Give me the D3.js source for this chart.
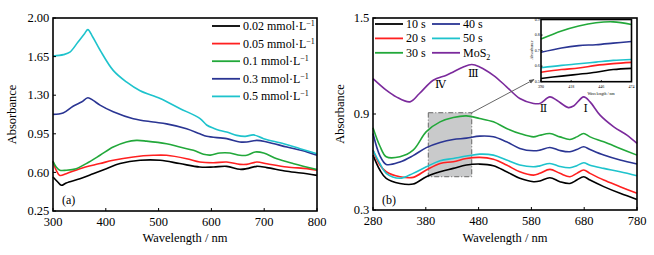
<!DOCTYPE html>
<html>
<head>
<meta charset="utf-8">
<script src="https://cdn.jsdelivr.net/npm/d3@7"></script>
<style>
  body { margin: 0; background: #fff; }
  .frame { fill: none; stroke: #000; stroke-width: 1.6; }
  .curve { fill: none; stroke-width: 1.6; }
</style>
</head>
<body>
<div id="wrapper"></div>
<script>
// ---------- panel (a) data ----------
const aNames = ["0.02", "0.05", "0.1", "0.3", "0.5"];
const aColors = ["#000000", "#ff2020", "#22a83a", "#2a3593", "#1ec3cc"];
const aWl02 = [300, 309, 316, 325, 351, 376, 401, 427, 465, 503, 540, 578, 604, 629, 654, 667, 686, 705, 743, 781, 800];
const aAbs02 = [0.558, 0.513, 0.483, 0.504, 0.543, 0.588, 0.634, 0.68, 0.71, 0.71, 0.68, 0.649, 0.649, 0.655, 0.628, 0.634, 0.655, 0.643, 0.61, 0.588, 0.573];
const aWl05 = [300, 306, 313, 325, 351, 389, 414, 452, 490, 515, 553, 578, 604, 629, 654, 667, 686, 705, 743, 781, 800];
const aAbs05 = [0.70, 0.62, 0.573, 0.588, 0.634, 0.68, 0.71, 0.74, 0.755, 0.755, 0.724, 0.694, 0.688, 0.694, 0.673, 0.673, 0.694, 0.679, 0.649, 0.634, 0.619];
const aWl1 = [300, 306, 313, 325, 344, 363, 389, 414, 439, 458, 477, 515, 540, 566, 585, 598, 616, 635, 654, 667, 683, 699, 724, 756, 800];
const aAbs1 = [0.70, 0.649, 0.62, 0.62, 0.634, 0.68, 0.755, 0.83, 0.876, 0.89, 0.884, 0.86, 0.83, 0.80, 0.764, 0.757, 0.776, 0.776, 0.755, 0.755, 0.785, 0.776, 0.724, 0.679, 0.625];
const aWl3 = [300, 319, 338, 354, 366, 376, 389, 414, 452, 490, 515, 553, 578, 591, 629, 654, 667, 686, 705, 743, 781, 800];
const aAbs3 = [1.126, 1.138, 1.20, 1.238, 1.277, 1.253, 1.21, 1.15, 1.087, 1.057, 1.04, 0.996, 0.95, 0.927, 0.906, 0.876, 0.876, 0.89, 0.876, 0.83, 0.785, 0.755];
const aWl5 = [300, 320, 332, 347, 360, 366, 375, 389, 414, 439, 465, 503, 540, 578, 591, 604, 616, 629, 648, 664, 680, 699, 737, 768, 800];
const aAbs5 = [1.655, 1.668, 1.69, 1.78, 1.86, 1.895, 1.83, 1.71, 1.525, 1.42, 1.34, 1.27, 1.18, 1.09, 1.03, 1.0, 0.98, 0.966, 0.936, 0.927, 0.94, 0.906, 0.86, 0.815, 0.77];
const aTicksX = [300, 400, 500, 600, 700, 800];
const aTicksY = [0.25, 0.60, 0.95, 1.30, 1.65, 2.00];

// ---------- panel (b) data ----------
const bNames = ["10 s", "20 s", "30 s", "40 s", "50 s", "MoS2"];
const bColors = ["#000000", "#ff2020", "#22a83a", "#2a3593", "#1ec3cc", "#7b2a9c"];
const bWl = [280, 293, 305, 331, 356, 381, 407, 432, 457, 482, 508, 533, 558, 584, 596, 615, 634, 653, 666, 679, 691, 717, 748, 780];
const bAbs10 = [0.643, 0.55, 0.498, 0.466, 0.462, 0.508, 0.539, 0.56, 0.581, 0.587, 0.577, 0.539, 0.498, 0.477, 0.481, 0.502, 0.477, 0.466, 0.487, 0.508, 0.487, 0.446, 0.404, 0.366];
const bAbs20 = [0.674, 0.581, 0.539, 0.508, 0.504, 0.55, 0.591, 0.602, 0.622, 0.629, 0.617, 0.581, 0.539, 0.518, 0.529, 0.554, 0.529, 0.508, 0.529, 0.55, 0.529, 0.487, 0.446, 0.404];
const bAbs30 = [0.814, 0.70, 0.633, 0.633, 0.674, 0.79, 0.851, 0.878, 0.888, 0.872, 0.851, 0.81, 0.778, 0.757, 0.767, 0.778, 0.757, 0.741, 0.757, 0.778, 0.757, 0.726, 0.685, 0.643];
const bAbs40 = [0.778, 0.64, 0.585, 0.6, 0.64, 0.69, 0.722, 0.741, 0.749, 0.762, 0.758, 0.726, 0.685, 0.67, 0.674, 0.691, 0.672, 0.664, 0.678, 0.695, 0.678, 0.643, 0.612, 0.587];
const bAbs50 = [0.674, 0.591, 0.529, 0.498, 0.529, 0.57, 0.608, 0.622, 0.637, 0.649, 0.643, 0.612, 0.581, 0.57, 0.576, 0.591, 0.572, 0.564, 0.577, 0.595, 0.58, 0.56, 0.539, 0.514];
const bWlMoS2 = [280, 305, 324, 350, 368, 394, 419, 432, 451, 467, 482, 508, 533, 558, 584, 596, 615, 628, 650, 660, 679, 691, 710, 736, 761, 780];
const bAbsMoS2 = [1.121, 1.049, 1.007, 0.976, 1.028, 1.111, 1.142, 1.163, 1.194, 1.209, 1.194, 1.142, 1.07, 0.997, 0.966, 0.966, 1.007, 0.986, 0.94, 0.95, 1.007, 0.976, 0.893, 0.82, 0.768, 0.716];
const bTicksX = [280, 380, 480, 580, 680, 780];
const bTicksY = [0.3, 0.9, 1.5];
const peakLabels = ["Ⅳ", "Ⅲ", "Ⅱ", "Ⅰ"];
const peakWl = [408, 470, 603, 683];
const peakAbs = [1.062, 1.13, 0.914, 0.914];
const boxRange = [384.7, 467, 0.508, 0.908];

// ---------- inset data ----------
const inWl = [390, 409, 425, 441, 457, 474];
const inAbs10 = [0.521, 0.536, 0.548, 0.561, 0.578, 0.586];
const inAbs20 = [0.561, 0.578, 0.588, 0.605, 0.616, 0.624];
const inAbs30 = [0.774, 0.826, 0.858, 0.879, 0.885, 0.868];
const inAbs40 = [0.689, 0.717, 0.732, 0.738, 0.748, 0.759];
const inAbs50 = [0.59, 0.605, 0.615, 0.626, 0.637, 0.643];
const inTicksX = [390, 418, 446, 474];
const inTicksY = [0.5, 0.6, 0.7, 0.8, 0.9];

const serif = "'Liberation Serif', 'Times New Roman', serif";
const width = 654, height = 255;
const svg = d3.select("#wrapper").append("svg")
    .attr("width", width)
    .attr("height", height);

const zip = (xs, ys) => xs.map((x, i) => [x, ys[i]]);
const label = (g, size) => g.append("text")
    .style("font-family", serif)
    .style("font-size", size + "px")
    .attr("fill", "#000");

function drawFrame(g, x, y, xTicks, yTicks, yFmt, tickLen, fontSize) {
    const [x0, x1] = x.range();
    const [y0, y1] = y.range();
    xTicks.forEach(t => {
        g.append("line").attr("x1", x(t)).attr("x2", x(t))
            .attr("y1", y0).attr("y2", y0 - tickLen)
            .attr("stroke", "#000").attr("stroke-width", 1);
        label(g, fontSize)
            .attr("x", x(t)).attr("y", y0 + fontSize + 2)
            .attr("text-anchor", "middle")
            .text(t);
    });
    yTicks.forEach(t => {
        g.append("line").attr("x1", x0).attr("x2", x0 + tickLen)
            .attr("y1", y(t)).attr("y2", y(t))
            .attr("stroke", "#000").attr("stroke-width", 1);
        label(g, fontSize)
            .attr("x", x0 - fontSize * 0.3).attr("y", y(t) + fontSize * 0.33)
            .attr("text-anchor", "end")
            .text(yFmt(t));
    });
    g.append("rect").attr("class", "frame")
        .attr("x", x0).attr("y", y1)
        .attr("width", x1 - x0).attr("height", y0 - y1);
}

// ========== panel (a) ==========
const xA = d3.scaleLinear().domain([300, 800]).range([53, 317]);
const yA = d3.scaleLinear().domain([0.25, 2.0]).range([211, 18]);
const gA = svg.append("g");
const lineA = d3.line().x(d => xA(d[0])).y(d => yA(d[1])).curve(d3.curveCatmullRom);
const aSeries = [zip(aWl02, aAbs02), zip(aWl05, aAbs05), zip(aWl1, aAbs1), zip(aWl3, aAbs3), zip(aWl5, aAbs5)];

gA.selectAll(".curve").data(aSeries).enter().append("path")
    .attr("class", "curve")
    .attr("stroke", (d, i) => aColors[i])
    .attr("d", lineA);

drawFrame(gA, xA, yA, aTicksX, aTicksY, d3.format(".2f"), 3, 12.5);

label(gA, 12.5)
    .attr("transform", `translate(16,${(18 + 211) / 2}) rotate(-90)`)
    .attr("text-anchor", "middle")
    .text("Absorbance");
label(gA, 12.5)
    .attr("x", (53 + 317) / 2).attr("y", 242)
    .attr("text-anchor", "middle")
    .text("Wavelength / nm");
label(gA, 12)
    .attr("x", 62).attr("y", 204).text("(a)");

const legA = gA.append("g");
aNames.forEach((n, i) => {
    const ly = 26 + i * 17.6;
    legA.append("line").attr("x1", 212).attr("x2", 240)
        .attr("y1", ly).attr("y2", ly)
        .attr("stroke", aColors[i]).attr("stroke-width", 1.8);
    const t = label(legA, 12)
        .attr("x", 243).attr("y", ly + 4);
    t.append("tspan").text(n + " mmol\u00b7L");
    t.append("tspan").attr("dy", -4).style("font-size", "8px").text("\u22121");
});

// ========== panel (b) ==========
const xB = d3.scaleLinear().domain([280, 780]).range([373, 637]);
const yB = d3.scaleLinear().domain([0.3, 1.5]).range([210, 18]);
const gB = svg.append("g");
const lineB = d3.line().x(d => xB(d[0])).y(d => yB(d[1])).curve(d3.curveCatmullRom);

// shaded selection box
gB.append("rect")
    .attr("x", xB(boxRange[0])).attr("y", yB(boxRange[3]))
    .attr("width", xB(boxRange[1]) - xB(boxRange[0]))
    .attr("height", yB(boxRange[2]) - yB(boxRange[3]))
    .attr("fill", "#c9cacb")
    .attr("stroke", "#666")
    .attr("stroke-width", 1)
    .attr("stroke-dasharray", "5,2,1,2");

const bSeries = [
    zip(bWl, bAbs10), zip(bWl, bAbs20), zip(bWl, bAbs30),
    zip(bWl, bAbs40), zip(bWl, bAbs50), zip(bWlMoS2, bAbsMoS2)
];
gB.selectAll(".curve").data(bSeries).enter().append("path")
    .attr("class", "curve")
    .attr("stroke", (d, i) => bColors[i])
    .attr("d", lineB);

drawFrame(gB, xB, yB, bTicksX, bTicksY, d3.format(".1f"), 3, 12.5);

label(gB, 12.5)
    .attr("transform", `translate(344,${(18 + 210) / 2}) rotate(-90)`)
    .attr("text-anchor", "middle")
    .text("Absorbance");
label(gB, 12.5)
    .attr("x", (373 + 637) / 2).attr("y", 242)
    .attr("text-anchor", "middle")
    .text("Wavelength / nm");
label(gB, 12)
    .attr("x", 382).attr("y", 204).text("(b)");

peakLabels.forEach((p, i) => {
    label(gB, 11)
        .attr("x", xB(peakWl[i])).attr("y", yB(peakAbs[i]))
        .attr("text-anchor", "middle")
        .style("font-family", "'DejaVu Serif', serif")
        .text(p);
});

const legB = gB.append("g");
bNames.forEach((n, i) => {
    const col = Math.floor(i / 3), row = i % 3;
    const lx = 375 + col * 57, ly = 24 + row * 14.4;
    legB.append("line").attr("x1", lx).attr("x2", lx + 28)
        .attr("y1", ly).attr("y2", ly)
        .attr("stroke", bColors[i]).attr("stroke-width", 1.8);
    const t = label(legB, 12)
        .attr("x", lx + 31).attr("y", ly + 4);
    if (n === "MoS2") {
        t.append("tspan").text("MoS");
        t.append("tspan").attr("dy", 3).style("font-size", "8px").text("2");
    } else {
        t.text(n);
    }
});

// ========== inset ==========
const xI = d3.scaleLinear().domain([390, 474]).range([541, 631.5]);
const yI = d3.scaleLinear().domain([0.5, 0.9]).range([81.7, 19.5]);

// arrow from box corner to inset
const defs = svg.append("defs");
defs.append("marker").attr("id", "arrowhead")
    .attr("viewBox", "0 0 10 10").attr("refX", 9).attr("refY", 5)
    .attr("markerWidth", 6).attr("markerHeight", 6)
    .attr("orient", "auto")
    .append("path").attr("d", "M0,1 L10,5 L0,9 z").attr("fill", "#555");
gB.append("line")
    .attr("x1", xB(boxRange[1])).attr("y1", yB(boxRange[3]))
    .attr("x2", 534).attr("y2", 79.5)
    .attr("stroke", "#555").attr("stroke-width", 0.9)
    .attr("marker-end", "url(#arrowhead)");

const gI = svg.append("g");
gI.append("rect").attr("x", 541).attr("y", 19.5)
    .attr("width", 90.5).attr("height", 62.2).attr("fill", "#fff");
const lineI = d3.line().x(d => xI(d[0])).y(d => yI(d[1])).curve(d3.curveCatmullRom);
const inSeries = [zip(inWl, inAbs10), zip(inWl, inAbs20), zip(inWl, inAbs30), zip(inWl, inAbs40), zip(inWl, inAbs50)];
gI.selectAll(".curve").data(inSeries).enter().append("path")
    .attr("class", "curve")
    .attr("stroke-width", 1.2)
    .attr("stroke", (d, i) => bColors[i])
    .attr("d", lineI);
drawFrame(gI, xI, yI, inTicksX, inTicksY, d3.format(".1f"), 1.5, 4);
gI.select(".frame").attr("stroke-width", 1);
label(gI, 4)
    .attr("x", 601).attr("y", 95)
    .attr("text-anchor", "middle")
    .text("Wavelength / nm");
label(gI, 4)
    .attr("transform", `translate(533,50) rotate(-90)`)
    .attr("text-anchor", "middle")
    .text("Absorbance");
</script>
</body>
</html>
